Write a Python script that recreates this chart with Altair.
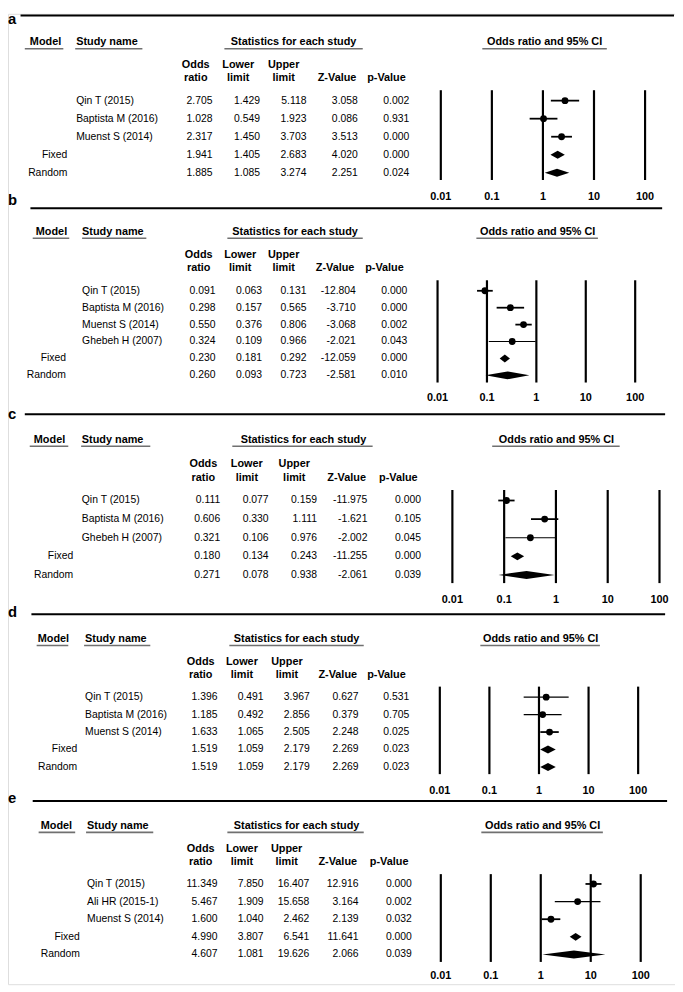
import altair as alt
import pandas as pd

FONT = "Liberation Sans"

TICKS = [0.01, 0.1, 1, 10, 100]
TICK_LABELS = ["0.01", "0.1", "1", "10", "100"]
SUMMARY = ["Fixed", "Random"]

# ---- panel a ----
A_STUDIES = ["Qin T (2015)", "Baptista M (2016)", "Muenst S (2014)"]
A_OR = [2.705, 1.028, 2.317, 1.941, 1.885]
A_LO = [1.429, 0.549, 1.450, 1.405, 1.085]
A_HI = [5.118, 1.923, 3.703, 2.683, 3.274]
A_Z = [3.058, 0.086, 3.513, 4.020, 2.251]
A_P = [0.002, 0.931, 0.000, 0.000, 0.024]

# ---- panel b ----
B_STUDIES = ["Qin T (2015)", "Baptista M (2016)", "Muenst S (2014)", "Ghebeh H (2007)"]
B_OR = [0.091, 0.298, 0.550, 0.324, 0.230, 0.260]
B_LO = [0.063, 0.157, 0.376, 0.109, 0.181, 0.093]
B_HI = [0.131, 0.565, 0.806, 0.966, 0.292, 0.723]
B_Z = [-12.804, -3.710, -3.068, -2.021, -12.059, -2.581]
B_P = [0.000, 0.000, 0.002, 0.043, 0.000, 0.010]

# ---- panel c ----
C_STUDIES = ["Qin T (2015)", "Baptista M (2016)", "Ghebeh H (2007)"]
C_OR = [0.111, 0.606, 0.321, 0.180, 0.271]
C_LO = [0.077, 0.330, 0.106, 0.134, 0.078]
C_HI = [0.159, 1.111, 0.976, 0.243, 0.938]
C_Z = [-11.975, -1.621, -2.002, -11.255, -2.061]
C_P = [0.000, 0.105, 0.045, 0.000, 0.039]

# ---- panel d ----
D_STUDIES = ["Qin T (2015)", "Baptista M (2016)", "Muenst S (2014)"]
D_OR = [1.396, 1.185, 1.633, 1.519, 1.519]
D_LO = [0.491, 0.492, 1.065, 1.059, 1.059]
D_HI = [3.967, 2.856, 2.505, 2.179, 2.179]
D_Z = [0.627, 0.379, 2.248, 2.269, 2.269]
D_P = [0.531, 0.705, 0.025, 0.023, 0.023]

# ---- panel e ----
E_STUDIES = ["Qin T (2015)", "Ali HR (2015-1)", "Muenst S (2014)"]
E_OR = [11.349, 5.467, 1.600, 4.990, 4.607]
E_LO = [7.850, 1.909, 1.040, 3.807, 1.081]
E_HI = [16.407, 15.658, 2.462, 6.541, 19.626]
E_Z = [12.916, 3.164, 2.139, 11.641, 2.066]
E_P = [0.000, 0.002, 0.032, 0.000, 0.039]

# ---- layout (reference-pixel positions, styling only) ----
LAYOUT = {
    "a": dict(rule_y=6.7, rule_x=(20.7, 682), letter_base=8, model_c=46, model_ul=(25, 64), model_r=68,
              study_l=77, study_ul=(76, 144), stats_c=297, stats_ul=(227, 367), orh_c=551, orh_ul=(488, 614),
              header_y=34, cols=[215, 263, 310, 362, 414], sub1=57, sub2=70.7, row0=93.3, row1=166.7,
              vtop=82.7, vbot=174, lab_y=191.7, x0=446, x1=652.7, thin=[]),
    "b": dict(rule_y=202.7, rule_x=(30.7, 670), letter_base=199, model_c=52, model_ul=(33, 70), model_r=66.7,
              study_l=83, study_ul=(83, 148), stats_c=298.5, stats_ul=(230, 367), orh_c=544, orh_ul=(482, 605),
              header_y=226.7, cols=[218, 265, 310, 360, 412], sub1=250, sub2=263.3, row0=286.7, row1=372.7,
              vtop=276, vbot=380, lab_y=396, x0=442.7, x1=642.7, thin=["Ghebeh H (2007)"]),
    "c": dict(rule_y=412.3, rule_x=(25, 673), letter_base=417, model_c=50, model_ul=(30, 69), model_r=74,
              study_l=82.7, study_ul=(82, 152), stats_c=307, stats_ul=(235, 377), orh_c=563, orh_ul=(498, 627),
              header_y=438.3, cols=[222.7, 271.7, 320.7, 371.7, 426], sub1=463.3, sub2=476.7, row0=500, row1=575.7,
              vtop=489.3, vbot=584, lab_y=601.7, x0=457.7, x1=667.3, thin=["Ghebeh H (2007)"]),
    "d": dict(rule_y=615.7, rule_x=(31.7, 673), letter_base=618, model_c=54, model_ul=(37, 69), model_r=78,
              study_l=86, study_ul=(85, 152), stats_c=300, stats_ul=(232, 368), orh_c=547, orh_ul=(486, 607),
              header_y=641, cols=[220, 266.7, 313.3, 362.7, 414], sub1=664, sub2=677.7, row0=700, row1=771,
              vtop=689.3, vbot=778.3, lab_y=795, x0=445, x1=645.7, thin=["Qin T (2015)", "Baptista M (2016)"]),
    "e": dict(rule_y=805.7, rule_x=(33, 675), letter_base=808, model_c=57, model_ul=(39, 76), model_r=80.7,
              study_l=88, study_ul=(87, 155), stats_c=300, stats_ul=(230, 368), orh_c=549, orh_ul=(487, 610),
              header_y=831, cols=[220, 266.7, 313, 362.7, 416.7], sub1=854, sub2=867.7, row0=890, row1=961.7,
              vtop=880, vbot=969.3, lab_y=983.3, x0=446, x1=648.3, thin=["Ali HR (2015-1)"]),
}
SUB_OFFSETS = [17, 22, 23, 21, 23]
SUB_LINES = [("Odds", "ratio"), ("Lower", "limit"), ("Upper", "limit"), (None, "Z-Value"), (None, "p-Value")]

W, H = 675, 982


def Y(v):
    return (v - 5) * 0.995


def X(v):
    return v - 8


ONE = pd.DataFrame({"k": [0]})


def hrule(x0, x1, y, w=2, color="black"):
    return alt.Chart(ONE).mark_rule(color=color, strokeWidth=w).encode(
        x=alt.value(X(x0)), x2=alt.value(X(x1)), y=alt.value(Y(y)))


def label(text, x, y, align="center", size=11, weight="bold", baseline="middle"):
    return alt.Chart(ONE).mark_text(font=FONT, fontSize=size, fontWeight=weight, align=align,
                                    baseline=baseline, color="black").encode(
        x=alt.value(x), y=alt.value(y), text=alt.value(text))


def panel(key, studies, orr, lo, hi, z, p):
    L = LAYOUT[key]
    n = len(orr)
    ns = len(studies)
    df = pd.DataFrame({
        "row": list(range(n)),
        "name": studies + SUMMARY,
        "kind": ["study"] * ns + ["summary"] * 2,
        "or_": orr, "lo": lo, "hi": hi, "z": z, "p": p,
    })
    for c in ["or_", "lo", "hi", "z", "p"]:
        df[c + "_s"] = df[c].map(lambda v: f"{v:.3f}")

    ys = alt.Scale(domain=[0, n - 1], range=[Y(L["row0"]), Y(L["row1"])], nice=False, zero=False)
    xs = alt.Scale(type="log", domain=[0.01, 100], range=[X(L["x0"]), X(L["x1"])], nice=False)
    spacing = (Y(L["row1"]) - Y(L["row0"])) / (n - 1)
    half = 4.0 / spacing

    layers = []
    # top rule + letter
    layers.append(hrule(L["rule_x"][0], L["rule_x"][1], L["rule_y"], 2))
    layers.append(label(key, 0, max(Y(L["letter_base"]), 10), align="left", size=15, baseline="alphabetic"))
    # headers
    hy = Y(L["header_y"])
    layers.append(label("Model", X(L["model_c"]), hy))
    layers.append(label("Study name", X(L["study_l"]), hy, align="left"))
    layers.append(label("Statistics for each study", X(L["stats_c"]), hy))
    layers.append(label("Odds ratio and 95% CI", X(L["orh_c"]), hy))
    uy = L["header_y"] + 6.5
    for (u0, u1) in [L["model_ul"], L["study_ul"], L["stats_ul"], L["orh_ul"]]:
        layers.append(hrule(u0, u1, uy, 1.6, "#707070"))
    for xr, off, (l1, l2) in zip(L["cols"], SUB_OFFSETS, SUB_LINES):
        if l1:
            layers.append(label(l1, X(xr - off), Y(L["sub1"])))
        layers.append(label(l2, X(xr - off), Y(L["sub2"])))

    base = alt.Chart(df).encode(y=alt.Y("row:Q", scale=ys, axis=None))
    st = base.transform_filter(alt.datum.kind == "study")
    sm = base.transform_filter(alt.datum.kind == "summary")
    txt = dict(font=FONT, fontSize=10.5, baseline="middle", color="black")
    layers.append(sm.mark_text(align="right", **txt).encode(x=alt.value(X(L["model_r"])), text="name:N"))
    layers.append(st.mark_text(align="left", **txt).encode(x=alt.value(X(L["study_l"])), text="name:N"))
    for c, xr in zip(["or_", "lo", "hi", "z", "p"], L["cols"]):
        layers.append(base.mark_text(align="right", **txt).encode(x=alt.value(X(xr)), text=f"{c}_s:N"))

    # reference lines and tick labels
    tdf = pd.DataFrame({"t": TICKS, "lab": TICK_LABELS})
    layers.append(alt.Chart(tdf).mark_rule(color="black", strokeWidth=2.2).encode(
        x=alt.X("t:Q", scale=xs, axis=None), y=alt.value(Y(L["vtop"])), y2=alt.value(Y(L["vbot"]))))
    layers.append(alt.Chart(tdf).mark_text(font=FONT, fontSize=11, fontWeight="bold", baseline="middle",
                                           color="black").encode(
        x=alt.X("t:Q", scale=xs, axis=None), y=alt.value(Y(L["lab_y"])), text="lab:N"))

    # study CIs and points
    thin = L["thin"]
    if thin:
        layers.append(st.transform_filter(alt.FieldOneOfPredicate(field="name", oneOf=thin))
                      .mark_rule(color="black", strokeWidth=1.1).encode(
            x=alt.X("lo:Q", scale=xs, axis=None), x2="hi:Q"))
        layers.append(st.transform_filter(~alt.FieldOneOfPredicate(field="name", oneOf=thin))
                      .mark_rule(color="black", strokeWidth=1.8).encode(
            x=alt.X("lo:Q", scale=xs, axis=None), x2="hi:Q"))
    else:
        layers.append(st.mark_rule(color="black", strokeWidth=1.8).encode(
            x=alt.X("lo:Q", scale=xs, axis=None), x2="hi:Q"))
    layers.append(st.mark_circle(size=48, color="black", opacity=1).encode(
        x=alt.X("or_:Q", scale=xs, axis=None)))

    # summary diamonds (one area per summary row, vertices from lo / OR / hi)
    for _, r in df[df.kind == "summary"].iterrows():
        ddf = pd.DataFrame({
            "xv": [float(r["lo"]), float(r["or_"]), float(r["hi"])],
            "ylo": [float(r["row"]), float(r["row"]) - half, float(r["row"])],
            "yhi": [float(r["row"]), float(r["row"]) + half, float(r["row"])],
        })
        layers.append(alt.Chart(ddf).mark_area(color="black", opacity=1, interpolate="linear",
                                               orient="vertical", line=False).encode(
            x=alt.X("xv:Q", scale=xs, axis=None),
            y=alt.Y("ylo:Q", scale=ys, axis=None),
            y2=alt.Y2("yhi:Q")))

    return alt.layer(*layers)


chart = alt.layer(
    panel("a", A_STUDIES, A_OR, A_LO, A_HI, A_Z, A_P),
    panel("b", B_STUDIES, B_OR, B_LO, B_HI, B_Z, B_P),
    panel("c", C_STUDIES, C_OR, C_LO, C_HI, C_Z, C_P),
    panel("d", D_STUDIES, D_OR, D_LO, D_HI, D_Z, D_P),
    panel("e", E_STUDIES, E_OR, E_LO, E_HI, E_Z, E_P),
).resolve_scale(x="independent", y="independent").properties(
    width=W, height=H, padding=0, autosize="none"
).configure_view(stroke=None).configure(font=FONT)

chart.save("out.html", embed_options={"renderer": "svg", "actions": False})
